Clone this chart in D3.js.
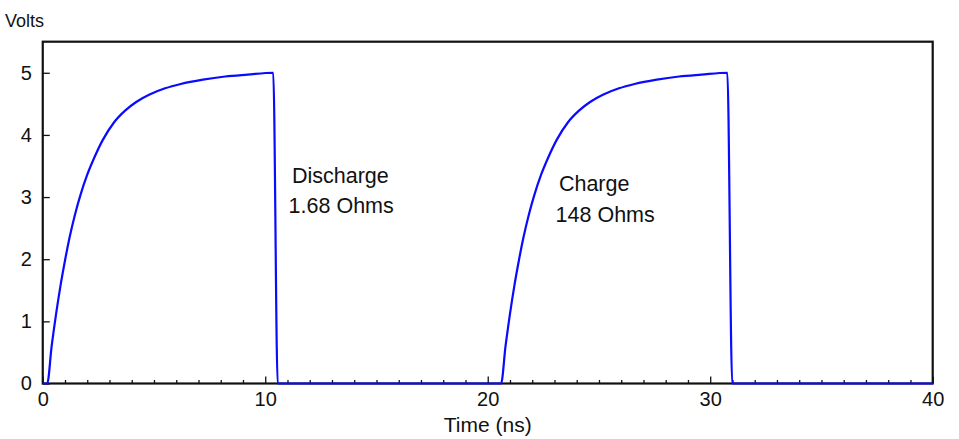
<!DOCTYPE html>
<html>
<head>
<meta charset="utf-8">
<script src="https://cdn.jsdelivr.net/npm/d3@7"></script>
<style>
  body { margin: 0; background: #fff; }
  text { font-family: "Liberation Sans", Arial, sans-serif; fill: #111; }
</style>
</head>
<body>
<div id="chart"></div>
<script>
// time in ns, voltage in volts
let timeNs = [
    0, 0.2, 0.4, 0.6, 0.8, 1.0, 1.2, 1.45, 1.7, 2.0, 2.3, 2.7, 3.2, 3.7, 4.2, 4.8, 5.5, 6.2, 7.2, 8.2, 9.2, 10.36, 10.56,
    20.6, 20.8, 21.0, 21.2, 21.4, 21.6, 21.85, 22.1, 22.4, 22.7, 23.1, 23.6, 24.1, 24.6, 25.2, 25.9, 26.6, 27.6, 28.6, 29.6, 30.77, 30.99,
    40
];
let volts = [
    0, 0, 0.6, 1.12, 1.58, 1.98, 2.34, 2.72, 3.04, 3.36, 3.62, 3.92, 4.2, 4.39, 4.53, 4.65, 4.75, 4.82, 4.89, 4.94, 4.97, 5.0, 0,
    0, 0.6, 1.12, 1.58, 1.98, 2.34, 2.72, 3.04, 3.36, 3.62, 3.92, 4.2, 4.39, 4.53, 4.65, 4.75, 4.82, 4.89, 4.94, 4.97, 5.0, 0,
    0
];

let xTicks = [0, 10, 20, 30, 40];
let yTicks = [0, 1, 2, 3, 4, 5];

// annotation text: [time, volts, label]
let notes = [
    [11.2, 3.23, 'Discharge'],
    [11.05, 2.74, '1.68 Ohms'],
    [23.2, 3.1, 'Charge'],
    [23.05, 2.6, '148 Ohms']
];

let chart_width = 959;
let chart_height = 439;
let padLeft = 42.75, padRight = 932.7, padTop = 41.7, padBottom = 383.5;

let svg = d3.select('#chart')
    .append('svg')
    .attr('width', chart_width)
    .attr('height', chart_height);

let xScale = d3.scaleLinear()
    .domain([0, 40])
    .range([padLeft, padRight]);

let yScale = d3.scaleLinear()
    .domain([0, 5.5])
    .range([padBottom, padTop]);

// minor ticks every ns
let minorAxis = d3.axisBottom(xScale)
    .tickValues(d3.range(0, 41).filter(d => d % 10 != 0))
    .tickSize(-3.5)
    .tickFormat('');

svg.append('g')
    .attr('transform', 'translate(0,' + padBottom + ')')
    .call(minorAxis)
    .call(g => g.select('.domain').remove())
    .call(g => g.selectAll('line').attr('stroke', '#111').attr('stroke-width', 1.3));

let xAxis = d3.axisBottom(xScale)
    .tickValues(xTicks)
    .tickSize(-7)
    .tickPadding(8.5)
    .tickFormat(d3.format('d'));

svg.append('g')
    .attr('transform', 'translate(0,' + padBottom + ')')
    .call(xAxis)
    .call(g => g.select('.domain').remove())
    .call(g => g.selectAll('line').attr('stroke', '#111').attr('stroke-width', 1.3))
    .call(g => g.selectAll('text').attr('font-size', 20).attr('fill', '#111'));

let yAxis = d3.axisLeft(yScale)
    .tickValues(yTicks)
    .tickSize(-7)
    .tickPadding(11)
    .tickFormat(d3.format('d'));

svg.append('g')
    .attr('transform', 'translate(' + padLeft + ',0)')
    .call(yAxis)
    .call(g => g.select('.domain').remove())
    .call(g => g.selectAll('line').attr('stroke', '#111').attr('stroke-width', 1.3))
    .call(g => g.selectAll('text').attr('font-size', 20).attr('fill', '#111'));

// frame
svg.append('rect')
    .attr('x', padLeft)
    .attr('y', padTop)
    .attr('width', padRight - padLeft)
    .attr('height', padBottom - padTop)
    .attr('fill', 'none')
    .attr('stroke', '#111')
    .attr('stroke-width', 2.2);

// trace
let line = d3.line()
    .x((d, i) => xScale(timeNs[i]))
    .y(d => yScale(d))
    .curve(d3.curveMonotoneX);

svg.append('path')
    .datum(volts)
    .attr('d', line)
    .attr('fill', 'none')
    .attr('stroke', '#0a0aff')
    .attr('stroke-width', 2.2)
    .attr('stroke-linejoin', 'round');

// labels
svg.append('g')
    .selectAll('text')
    .data(notes)
    .enter()
    .append('text')
    .attr('x', d => xScale(d[0]))
    .attr('y', d => yScale(d[1]))
    .attr('font-size', 21.5)
    .text(d => d[2]);

svg.append('text')
    .attr('x', 5)
    .attr('y', 27)
    .attr('font-size', 18)
    .text('Volts');

svg.append('text')
    .attr('x', (padLeft + padRight) / 2)
    .attr('y', 432)
    .attr('text-anchor', 'middle')
    .attr('font-size', 21)
    .text('Time (ns)');
</script>
</body>
</html>
